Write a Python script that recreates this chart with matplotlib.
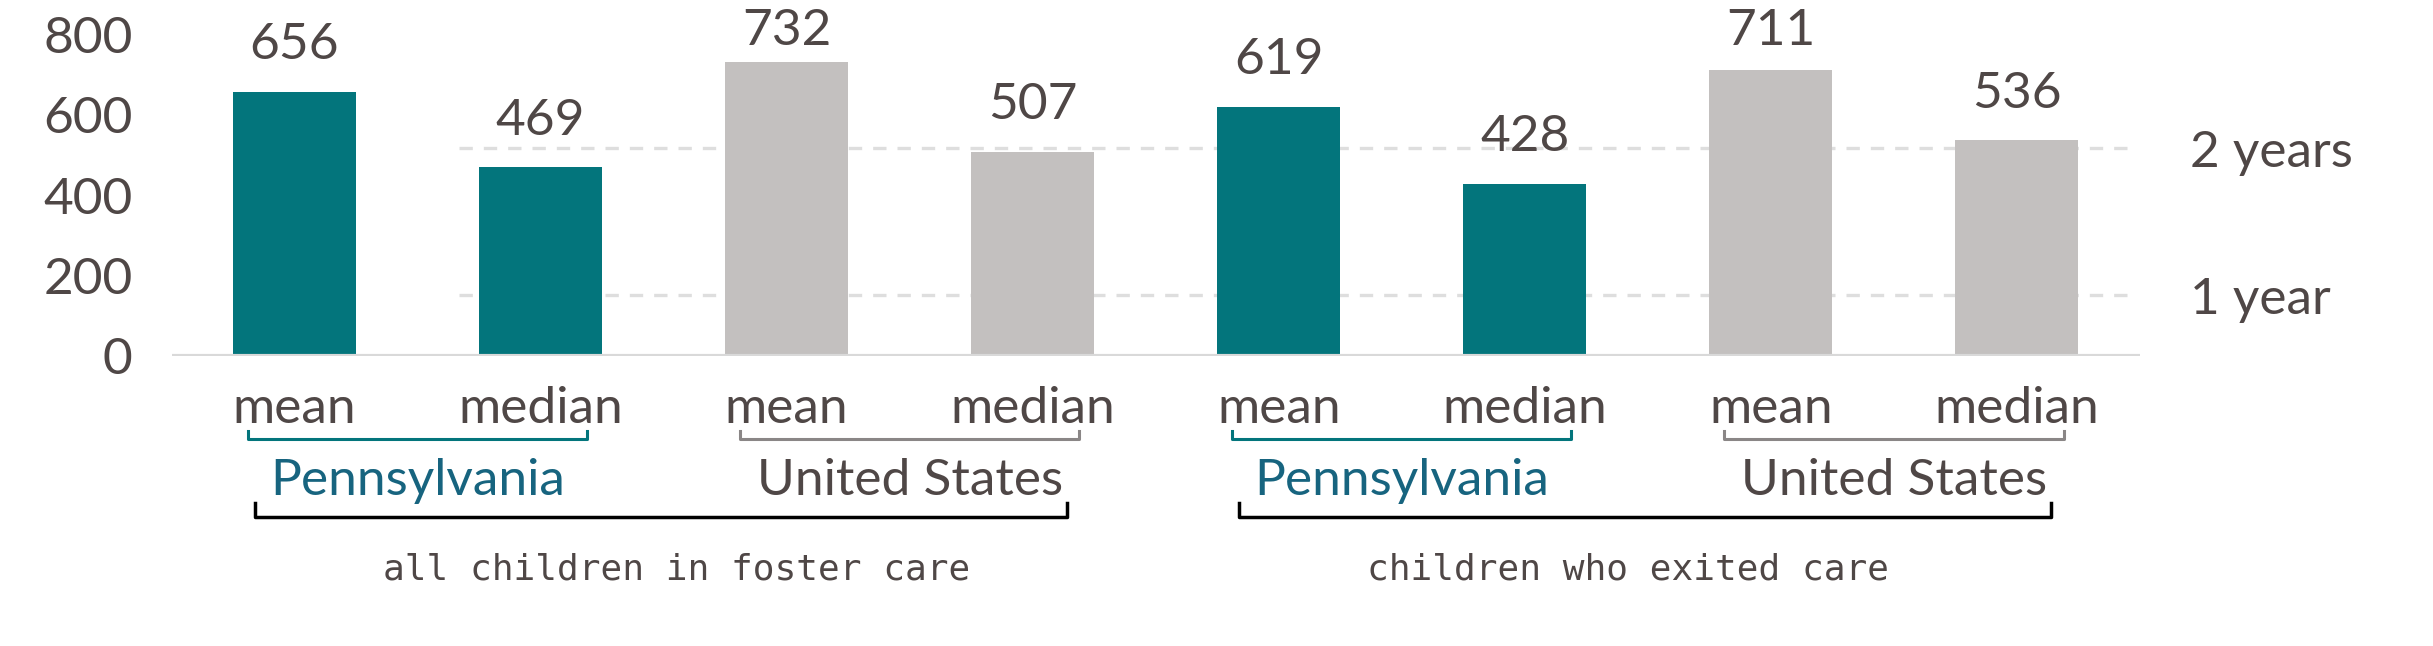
import matplotlib
matplotlib.use('Agg')
import matplotlib.pyplot as plt

categories = ['mean', 'median', 'mean', 'median', 'mean', 'median', 'mean', 'median']
days = [656, 469, 732, 507, 619, 428, 711, 536]
regions = ['Pennsylvania', 'United States', 'Pennsylvania', 'United States']
groups = ['all children in foster care', 'children who exited care']
y_ticks = [0, 200, 400, 600, 800]
year_ticks = [365, 730]
year_labels = ['1 year', '2 years']

TEAL = '#03757c'
GRAY = '#c3c0bf'
TEXT = '#4f4746'
PA_TEXT = '#17647f'
US_LINE = '#8a8686'
FS = 37

plt.rcParams['font.family'] = ['Lato', 'DejaVu Sans']

fig = plt.figure(figsize=(24.33, 6.46), dpi=100)
ax = fig.add_axes([0.0705, 0.449, 0.809, 0.498])

x = list(range(len(days)))
colors = [TEAL if regions[i // 2] == 'Pennsylvania' else GRAY for i in x]
ax.bar(x, days, width=0.5, color=colors, zorder=3)
ax.axhline(0, color='#d9d9d9', lw=3, zorder=4)

# value labels sit above the bars but are kept inside the top of the frame
for xi, v in zip(x, days):
    ax.text(xi, min(v + 116, 808), str(v), ha='center', va='center', fontsize=FS,
            color=TEXT, clip_on=False)

ax.set_xlim(-0.5, 7.5)
ax.set_ylim(0, 800)
ax.set_yticks(y_ticks)
ax.tick_params(axis='y', length=0, pad=28, labelsize=FS, labelcolor=TEXT)
ax.set_xticks([])
for s in ax.spines.values():
    s.set_visible(False)

# right axis in days, drawn as in the source (offset scale)
ax2 = ax.twinx()
ax2.set_ylim(214, 1014)
ax2.set_yticks(year_ticks, year_labels)
ax2.tick_params(axis='y', length=0, pad=36, labelsize=FS, labelcolor=TEXT)
for s in ax2.spines.values():
    s.set_visible(False)
ax2.hlines(year_ticks, 0.67, 7.45, colors='#dedede', linestyles=(0, (4, 3.3)), lw=2.4, zorder=1)
ax.set_zorder(ax2.get_zorder() + 1)
ax.patch.set_visible(False)

tr = ax.get_xaxis_transform()
for xi, cat in zip(x, categories):
    ax.text(xi, -0.165, cat, transform=tr, ha='center', va='center', fontsize=FS, color=TEXT)

for k, reg in enumerate(regions):
    start = 2 * k
    lc = TEAL if reg == 'Pennsylvania' else US_LINE
    tc = PA_TEXT if reg == 'Pennsylvania' else TEXT
    ax.plot([start - 0.19, start - 0.19, start + 1.19, start + 1.19], [-0.233, -0.257, -0.257, -0.233],
            transform=tr, color=lc, lw=2.2, clip_on=False)
    ax.text(start + 0.5, -0.388, reg, transform=tr, ha='center', va='center', fontsize=FS, color=tc)

for g, name in enumerate(groups):
    start = 4 * g
    ax.plot([start - 0.16, start - 0.16, start + 3.14, start + 3.14], [-0.456, -0.5, -0.5, -0.456],
            transform=tr, color='black', lw=2.5, clip_on=False)
    ax.text(start + 0.36, -0.665, name, transform=tr, ha='left', va='center', fontsize=26,
            color=TEXT, family='DejaVu Sans Mono')

fig.savefig('out.png', dpi=100)
